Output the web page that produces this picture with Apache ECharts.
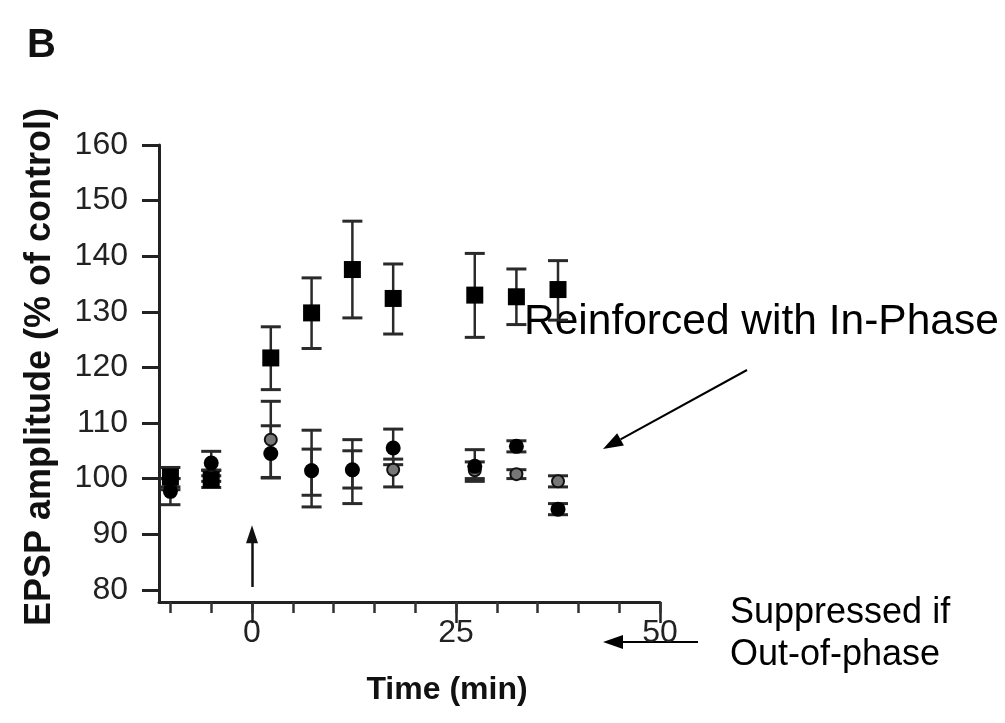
<!DOCTYPE html>
<html>
<head>
<meta charset="utf-8">
<title>EPSP amplitude</title>
<script src="https://cdn.jsdelivr.net/npm/echarts@6.0.0/dist/echarts.min.js"></script>
<style>
	html, body { margin: 0; padding: 0; background: #fff; }
	#echarts_box { width: 1005px; height: 723px; }
</style>
</head>
<body>
<div id="echarts_box"></div>
<script>
/*time points (min)*/
var timeArr = [-10, -5, 2.3, 7.3, 12.3, 17.3, 27.3, 32.4, 37.5];
/*in-phase (filled squares)*/
var inPhase = [100.3, 99.8, 121.7, 129.8, 137.6, 132.4, 133.0, 132.7, 134.0];
var inPhaseLow = [98.5, 98.4, 116.0, 123.4, 128.9, 126.0, 125.4, 127.7, 128.5];
var inPhaseHigh = [102.0, 101.5, 127.3, 136.1, 146.3, 138.6, 140.5, 137.7, 139.2];
/*out-of-phase (filled dots)*/
var outPhase = [97.7, 102.8, 104.5, 101.4, 101.6, 105.5, 102.2, 105.8, 94.5];
var outPhaseLow = [95.3, 100.5, 100.1, 97.0, 98.3, 102.5, 99.5, 104.8, 93.5];
var outPhaseHigh = [100.0, 104.9, 109.5, 105.3, 105.0, 108.9, 105.2, 106.8, 95.5];
/*control (open circles)*/
var control = [99.0, 100.5, 107.0, 101.5, 101.5, 101.6, 101.5, 100.8, 99.5];
var controlLow = [98.0, 99.5, 100.2, 94.9, 95.5, 98.5, 100.0, 100.0, 98.5];
var controlHigh = [100.0, 101.5, 113.9, 108.7, 107.0, 103.5, 103.0, 101.6, 100.5];
/*axis ticks*/
var yTicks = [80, 90, 100, 110, 120, 130, 140, 150, 160];
var xMinorTicks = [-10, -5, 0, 5, 10, 15, 20, 25, 30, 35, 40, 45, 50];
var xMajorTicks = [0, 25, 50];

window.onload = function() {
	var myChartFun = new myChartObj();
	myChartFun.doEChart();
}

var myChartObj = function() {
	this.mychart;
}
myChartObj.prototype.pairs = function(vals) {
	var arr = [];
	for(var i = 0; i < timeArr.length; i++) {
		arr.push([timeArr[i], vals[i]]);
	}
	return arr;
}
myChartObj.prototype.errorBars = function(low, high) {
	var arr = [];
	for(var i = 0; i < timeArr.length; i++) {
		arr.push([timeArr[i], low[i], high[i]]);
	}
	return {
		type: 'custom',
		xAxisIndex: 0,
		yAxisIndex: 0,
		z: 2,
		silent: true,
		data: arr,
		encode: { x: 0, y: [1, 2] },
		renderItem: function(params, api) {
			var lo = api.coord([api.value(0), api.value(1)]);
			var hi = api.coord([api.value(0), api.value(2)]);
			var hw = 10;
			var bar = { stroke: '#2a2a2a', lineWidth: 2.5 };
			var cap = { stroke: '#2a2a2a', lineWidth: 3 };
			return {
				type: 'group',
				children: [
					{ type: 'line', shape: { x1: lo[0], y1: lo[1], x2: hi[0], y2: hi[1] }, style: bar },
					{ type: 'line', shape: { x1: lo[0] - hw, y1: lo[1], x2: lo[0] + hw, y2: lo[1] }, style: cap },
					{ type: 'line', shape: { x1: hi[0] - hw, y1: hi[1], x2: hi[0] + hw, y2: hi[1] }, style: cap }
				]
			};
		}
	};
}
/*arrow drawn as line + triangle head*/
myChartObj.prototype.arrow = function(x1, y1, x2, y2) {
	var dx = x2 - x1, dy = y2 - y1;
	var len = Math.sqrt(dx * dx + dy * dy);
	var ux = dx / len, uy = dy / len;
	var bx = x2 - ux * 20, by = y2 - uy * 20;
	var w = 7;
	return [{
		type: 'line',
		shape: { x1: x1, y1: y1, x2: bx, y2: by },
		style: { stroke: '#000', lineWidth: 2 }
	}, {
		type: 'polygon',
		shape: { points: [[x2, y2], [bx - uy * w, by + ux * w], [bx + uy * w, by - ux * w]] },
		style: { fill: '#000' }
	}];
}
myChartObj.prototype.doEChart = function() {
	if(this.mychart) {
		this.mychart.dispose();
	}
	this.mychart = echarts.init(document.getElementById('echarts_box'));
	var font = 'Liberation Sans, Arial, sans-serif';
	var graphics = [{
		type: 'text', left: 27, top: 26,
		style: { text: 'B', font: 'bold 40px ' + font, fill: '#111' }
	}, {
		type: 'text', x: 40, y: 367, rotation: Math.PI / 2,
		style: { text: 'EPSP amplitude (% of control)', font: 'bold 36px ' + font, fill: '#111', textAlign: 'center', textVerticalAlign: 'middle' }
	}, {
		type: 'text', x: 447, y: 690,
		style: { text: 'Time (min)', font: 'bold 32px ' + font, fill: '#111', textAlign: 'center', textVerticalAlign: 'middle' }
	}, {
		type: 'text', x: 524, y: 322,
		style: { text: 'Reinforced with In-Phase', font: '42.5px ' + font, fill: '#000', textAlign: 'left', textVerticalAlign: 'middle' }
	}, {
		type: 'text', x: 730, y: 613,
		style: { text: 'Suppressed if', font: '36px ' + font, fill: '#000', textAlign: 'left', textVerticalAlign: 'middle' }
	}, {
		type: 'text', x: 730, y: 655,
		style: { text: 'Out-of-phase', font: '36px ' + font, fill: '#000', textAlign: 'left', textVerticalAlign: 'middle' }
	}];
	graphics = graphics.concat(this.arrow(747, 370, 603, 449), this.arrow(698, 642, 603, 642));

	var option = {
		animation: false,
		backgroundColor: '#fff',
		grid: { left: 159, right: 345, top: 145, bottom: 121 },
		xAxis: [{
			type: 'value',
			position: 'bottom',
			min: -11.4,
			max: 50,
			axisLine: { onZero: false, lineStyle: { color: '#222', width: 3 } },
			axisTick: { customValues: xMajorTicks, length: 21, lineStyle: { color: '#222', width: 2.5 } },
			axisLabel: { customValues: xMajorTicks, margin: 15, fontSize: 32, color: '#222', fontFamily: font },
			splitLine: { show: false }
		}, {
			type: 'value',
			position: 'bottom',
			min: -11.4,
			max: 50,
			axisLine: { show: false, onZero: false },
			axisTick: { customValues: xMinorTicks, length: 11, lineStyle: { color: '#333', width: 2.5 } },
			axisLabel: { show: false },
			splitLine: { show: false }
		}],
		yAxis: {
			type: 'value',
			min: 77.8,
			max: 160,
			axisLine: { show: true, onZero: false, lineStyle: { color: '#222', width: 3 } },
			axisTick: { show: true, customValues: yTicks, length: 17, lineStyle: { color: '#222', width: 3 } },
			axisLabel: { customValues: yTicks, margin: 31, fontSize: 32, color: '#222', fontFamily: font },
			splitLine: { show: false }
		},
		graphic: graphics,
		series: [
			this.errorBars(controlLow, controlHigh),
			this.errorBars(outPhaseLow, outPhaseHigh),
			this.errorBars(inPhaseLow, inPhaseHigh),
			{
				name: 'control',
				type: 'scatter',
				z: 3,
				symbol: 'circle',
				symbolSize: 12,
				itemStyle: { color: '#777', borderColor: '#111', borderWidth: 2, opacity: 1 },
				data: this.pairs(control),
				markLine: {
					silent: true,
					symbol: ['none', 'triangle'],
					symbolSize: [12, 18],
					label: { show: false },
					lineStyle: { color: '#111', width: 2.5, type: 'solid' },
					data: [[{ coord: [0, 80.5] }, { coord: [0, 90] }]]
				}
			}, {
				name: 'out-of-phase',
				type: 'scatter',
				z: 4,
				symbol: 'circle',
				symbolSize: 15,
				itemStyle: { color: '#000', opacity: 1 },
				data: this.pairs(outPhase)
			}, {
				name: 'in-phase',
				type: 'scatter',
				z: 5,
				symbol: 'rect',
				symbolSize: 17,
				itemStyle: { color: '#000', opacity: 1 },
				data: this.pairs(inPhase)
			}
		]
	};
	this.mychart.setOption(option);
}
</script>
</body>
</html>
